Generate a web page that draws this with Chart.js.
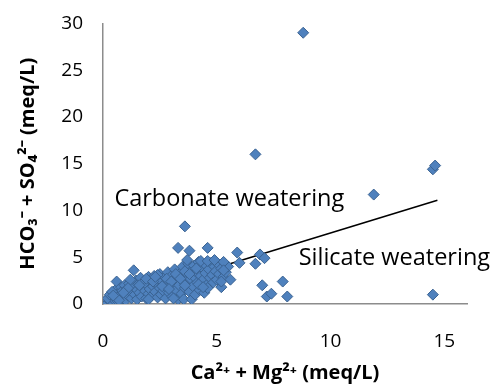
<!DOCTYPE html>
<html>
<head>
    <title>Carbonate vs silicate weathering</title>
    <script src="https://cdn.jsdelivr.net/npm/chart.js"></script>
    <style>
        body { margin: 0; background: #fff; }
        #wrap { width: 496px; height: 391px; }
    </style>
</head>
<body>
    <div id="wrap"><canvas id="scatterChart" width="496" height="391"></canvas></div>

    <script>
        // Ca2+ + Mg2+ (meq/L)
        const caMg = [
            0.1, 0.15, 0.2, 0.25, 0.3, 0.35, 0.4, 0.45, 0.5, 0.5, 0.55, 0.6, 0.6, 0.65, 0.7, 0.75, 0.8, 0.8, 0.85, 0.9,
            0.95, 1.0, 1.0, 1.05, 1.1, 1.15, 1.2, 1.25, 1.3, 1.35, 1.4, 1.45, 1.5, 1.5, 1.55, 1.6, 1.65, 1.7, 1.75, 1.8,
            1.85, 1.9, 1.95, 2.0, 2.0, 2.05, 2.1, 2.15, 2.2, 2.25, 2.3, 2.35, 2.4, 2.45, 2.5, 2.5, 2.55, 2.6, 2.65, 2.7,
            2.75, 2.8, 2.85, 2.9, 2.95, 3.0, 3.0, 3.05, 3.1, 3.15, 3.2, 3.25, 3.3, 3.3, 3.35, 3.4, 3.45, 3.5, 3.5, 3.55,
            3.6, 3.6, 3.65, 3.7, 3.75, 3.8, 3.8, 3.85, 3.9, 3.9, 3.95, 4.0, 4.0, 4.05, 4.1, 4.15, 4.2, 4.25, 4.3, 4.35,
            4.4, 4.45, 4.5, 4.5, 4.55, 4.6, 4.6, 4.65, 4.7, 4.75, 4.8, 4.85, 4.9, 4.95, 5.0, 5.05, 5.1, 5.2, 5.2, 5.3,
            5.4, 5.5, 5.6, 5.9, 6.0, 6.7, 6.7, 6.9, 7.0, 7.1, 7.2, 7.4, 7.9, 8.1, 8.8, 11.9, 14.5, 14.6, 14.5,
            0.2, 0.3, 0.4, 0.7, 1.2, 1.6, 1.9, 2.2, 2.4, 2.6, 2.8, 3.0, 3.2, 3.4, 3.6, 3.8, 4.1, 4.3, 4.6, 4.9,
            5.3, 3.6, 2.9, 4.2, 1.1, 0.9, 2.3, 3.7, 5.2, 4.4, 3.1, 2.0, 5.3, 0.45
        ];
        // HCO3- + SO4 2- (meq/L)
        const hco3So4 = [
            0.2, 0.4, 0.1, 0.5, 0.3, 0.8, 0.2, 0.6, 1.0, 0.4, 1.5, 2.4, 0.7, 0.3, 1.2, 0.9, 0.5, 1.8, 1.4, 0.8,
            2.0, 1.1, 0.4, 1.6, 0.9, 2.2, 1.3, 0.6, 1.9, 3.6, 1.0, 2.5, 1.5, 0.5, 2.1, 1.2, 2.8, 0.8, 1.8, 2.4,
            1.4, 0.6, 2.0, 2.9, 1.1, 1.6, 2.5, 0.9, 1.9, 3.0, 1.3, 2.2, 0.7, 2.7, 1.7, 3.2, 1.0, 2.4, 1.4, 2.9,
            0.6, 2.0, 3.4, 1.2, 2.6, 1.8, 3.0, 0.8, 2.3, 3.7, 1.5, 2.8, 6.0, 0.5, 2.0, 3.3, 1.1, 2.5, 4.0, 0.5,
            8.3, 1.7, 3.0, 2.2, 4.3, 5.7, 1.3, 2.7, 3.6, 0.5, 1.9, 4.1, 2.9, 1.0, 3.4, 2.3, 4.5, 1.5, 3.0, 3.9,
            2.6, 1.2, 4.2, 3.3, 2.0, 6.0, 1.7, 3.7, 2.8, 4.4, 3.1, 2.3, 4.0, 3.5, 2.6, 4.3, 3.2, 1.8, 3.8, 2.9,
            3.4, 4.0, 2.6, 5.5, 4.4, 16.0, 4.3, 5.3, 2.0, 4.9, 0.8, 1.1, 2.4, 0.8, 29.0, 11.7, 14.4, 14.8, 1.0,
            0.6, 1.0, 1.3, 0.4, 2.6, 2.0, 2.7, 2.4, 3.1, 1.9, 2.7, 2.4, 3.2, 2.7, 3.5, 3.2, 3.8, 4.6, 4.6, 4.7,
            4.5, 2.0, 1.6, 2.1, 1.7, 1.2, 2.9, 4.7, 2.4, 1.8, 0.6, 0.5, 3.6, 0.9
        ];
        // dividing line
        const lineX = [0.2, 14.7];
        const lineY = [0.3, 11.1];
        const xTicks = [0, 5, 10, 15];
        const yTicks = [0, 5, 10, 15, 20, 25, 30];

        const FONT = 'Open Sans';

        const points = caMg.map((x, i) => ({ x: x, y: hco3So4[i] }));
        const linePts = lineX.map((x, i) => ({ x: x, y: lineY[i] }));

        // region labels, placed in data units
        const regionLabels = [
            { text: 'Carbonate weatering', x: 0.5, y: 11.2 },
            { text: 'Silicate weatering', x: 8.6, y: 4.9 }
        ];

        const labelPlugin = {
            id: 'regionLabels',
            afterDatasetsDraw(c) {
                const ctx = c.ctx;
                ctx.save();
                ctx.font = '23.5px "' + FONT + '"';
                ctx.fillStyle = '#000';
                ctx.textBaseline = 'middle';
                ctx.textAlign = 'left';
                regionLabels.forEach(l => {
                    ctx.fillText(l.text, c.scales.x.getPixelForValue(l.x), c.scales.y.getPixelForValue(l.y));
                });
                ctx.restore();
            }
        };

        new Chart(document.getElementById('scatterChart'), {
            type: 'scatter',
            data: {
                datasets: [{
                    data: points,
                    pointStyle: 'rectRot',
                    pointRadius: 5.5,
                    pointBackgroundColor: '#4F81BD',
                    pointBorderColor: '#3A6291',
                    pointBorderWidth: 1
                }, {
                    type: 'line',
                    data: linePts,
                    borderColor: '#000',
                    borderWidth: 1.6,
                    pointRadius: 0,
                    fill: false
                }]
            },
            options: {
                responsive: false,
                animation: false,
                layout: { padding: { top: 17, right: 29 } },
                plugins: { legend: { display: false }, tooltip: { enabled: false } },
                scales: {
                    x: {
                        type: 'linear',
                        min: 0,
                        max: 16,
                        afterFit(s) { s.height = 87; },
                        afterBuildTicks(s) { s.ticks = xTicks.map(v => ({ value: v })); },
                        grid: { display: false },
                        border: { display: true, color: '#8c8c8c', width: 1.5 },
                        ticks: { padding: 18, color: '#000', font: { family: FONT, size: 19 } },
                        title: {
                            display: true,
                            text: 'Ca²⁺ + Mg²⁺ (meq/L)',
                            color: '#000',
                            font: { family: FONT, size: 20, weight: 'bold' },
                            padding: { bottom: 6 }
                        }
                    },
                    y: {
                        min: 0,
                        max: 30,
                        afterFit(s) { s.width = 103; },
                        afterBuildTicks(s) { s.ticks = yTicks.map(v => ({ value: v })); },
                        grid: { display: false },
                        border: { display: true, color: '#8c8c8c', width: 1.5 },
                        ticks: { padding: 12, color: '#000', font: { family: FONT, size: 19 } },
                        title: {
                            display: true,
                            text: 'HCO₃⁻ + SO₄²⁻ (meq/L)',
                            color: '#000',
                            font: { family: FONT, size: 20, weight: 'bold' },
                            padding: { top: 16 }
                        }
                    }
                }
            },
            plugins: [labelPlugin]
        });
    </script>
</body>
</html>
